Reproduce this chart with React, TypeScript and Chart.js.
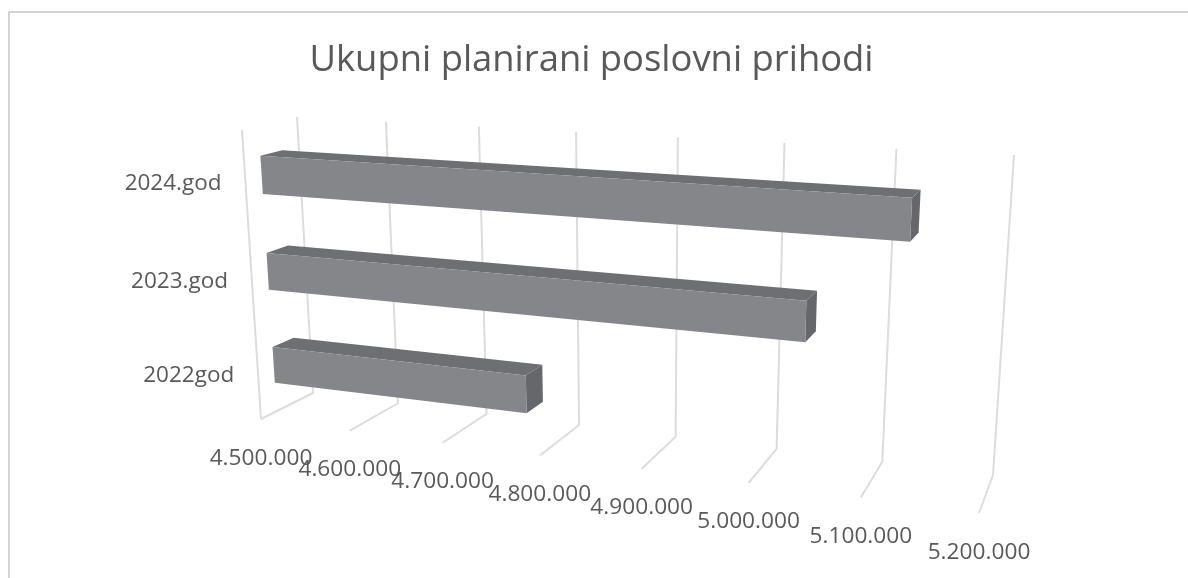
import React, { useEffect, useRef } from "react";
import { Chart, registerables } from "chart.js";

Chart.register(...registerables);

const categories = ["2022god", "2023.god", "2024.god"];
const prihodi = [4775000, 5041000, 5128000];
const axisMin = 4500000;
const axisMax = 5200000;
const axisStep = 100000;
const titleText = "Ukupni planirani poslovni prihodi";

type P = [number, number];

// Projective camera of the 3D box: corners of the back wall and of the front plane.
function quadMap(p00: P, p10: P, p11: P, p01: P) {
  const [x0, y0] = p00, [x1, y1] = p10, [x2, y2] = p11, [x3, y3] = p01;
  const dx3 = x0 - x1 + x2 - x3, dy3 = y0 - y1 + y2 - y3;
  const dx1 = x1 - x2, dx2 = x3 - x2, dy1 = y1 - y2, dy2 = y3 - y2;
  const det = dx1 * dy2 - dx2 * dy1;
  const g = (dx3 * dy2 - dx2 * dy3) / det;
  const h = (dx1 * dy3 - dx3 * dy1) / det;
  const a = x1 - x0 + g * x1, b = x3 - x0 + h * x3;
  const d = y1 - y0 + g * y1, e = y3 - y0 + h * y3;
  return (u: number, v: number): P => {
    const q = g * u + h * v + 1;
    return [(a * u + b * v + x0) / q, (d * u + e * v + y0) / q];
  };
}
const backWall = quadMap([313, 393], [993, 475], [1014, 155], [297, 117]);
const frontPlane = quadMap([261, 419], [979, 513], [998, 174], [242, 130]);
const project = (u: number, v: number, w: number): P => {
  const b = backWall(u, v), f = frontPlane(u, v);
  return [f[0] + (b[0] - f[0]) * w, f[1] + (b[1] - f[1]) * w];
};

const BAR_NEAR = 0.3;
const BAR_FAR = 0.7;
const BAR_V_SHIFT = -0.002;
const LABEL_V_SHIFT = 0.012;
const TEXT = "#595959";
const GRID = "#dcdcdc";
const FRAME = "#d4d4d4";

function poly(ctx: CanvasRenderingContext2D, pts: P[], fill: string) {
  ctx.beginPath();
  pts.forEach((p, i) => (i ? ctx.lineTo(p[0], p[1]) : ctx.moveTo(p[0], p[1])));
  ctx.closePath();
  ctx.fillStyle = fill;
  ctx.fill();
}
function stretchedText(ctx: CanvasRenderingContext2D, s: string, x: number, y: number, sx: number, align: CanvasTextAlign) {
  ctx.save();
  ctx.translate(x, y);
  ctx.scale(sx, 1);
  ctx.textAlign = align;
  ctx.textBaseline = "middle";
  ctx.fillStyle = TEXT;
  ctx.fillText(s, 0, 0);
  ctx.restore();
}

const box3d = {
  id: "box3d",
  beforeDatasetsDraw(chart: any) {
    const { ctx, chartArea: a, scales } = chart;
    const uOf = (px: number) => (px - a.left) / (a.right - a.left);
    const vOf = (py: number) => (a.bottom - py) / (a.bottom - a.top) - LABEL_V_SHIFT;
    ctx.save();
    ctx.lineJoin = "round";
    const line = (pts: P[]) => {
      ctx.beginPath();
      pts.forEach((p, i) => (i ? ctx.lineTo(p[0], p[1]) : ctx.moveTo(p[0], p[1])));
      ctx.stroke();
    };
    // frame of the pasted picture
    ctx.strokeStyle = FRAME;
    ctx.lineWidth = 2;
    line([[9, 578], [9, 12], [1188, 12]]);
    ctx.strokeStyle = GRID;
    ctx.lineWidth = 2;
    // left wall edge
    line([project(0, 1, 0), project(0, 0, 0)]);
    scales.x.ticks.forEach((t: any) => {
      const u = uOf(scales.x.getPixelForValue(t.value));
      line([project(u, 1, 1), project(u, 0, 1), project(u, 0, 0)]);
    });
    // value axis labels
    ctx.font = "21.5px 'Open Sans'";
    scales.x.ticks.forEach((t: any) => {
      const u = uOf(scales.x.getPixelForValue(t.value));
      const p = project(u, 0, 0);
      stretchedText(ctx, String(t.label), p[0], p[1] + 39.5, 1.055, "center");
    });
    // category labels
    ctx.font = "22.5px 'Open Sans'";
    scales.y.ticks.forEach((t: any, i: number) => {
      const v = vOf(scales.y.getPixelForValue(i));
      const p = project(0, v, 0);
      stretchedText(ctx, String(t.label), p[0] - 24, p[1], 1, "right");
    });
    ctx.restore();
  },
  afterDatasetsDraw(chart: any) {
    const { ctx, chartArea: a } = chart;
    const uOf = (px: number) => (px - a.left) / (a.right - a.left);
    const vOf = (py: number) => (a.bottom - py) / (a.bottom - a.top) - BAR_V_SHIFT;
    ctx.save();
    chart.getDatasetMeta(0).data.forEach((el: any) => {
      const u0 = Math.max(0, uOf(el.base)), u1 = uOf(el.x);
      const v0 = vOf(el.y + el.height / 2), v1 = vOf(el.y - el.height / 2);
      const n = BAR_NEAR, f = BAR_FAR;
      poly(ctx, [project(u0, v1, n), project(u1, v1, n), project(u1, v1, f), project(u0, v1, f)], "#6e6f73");
      poly(ctx, [project(u1, v0, n), project(u1, v0, f), project(u1, v1, f), project(u1, v1, n)], "#66676b");
      poly(ctx, [project(u0, v0, n), project(u1, v0, n), project(u1, v1, n), project(u0, v1, n)], "#85868a");
    });
    ctx.restore();
  },
};

export default function App() {
  const ref = useRef<HTMLCanvasElement>(null);
  useEffect(() => {
    const chart = new Chart(ref.current!, {
      type: "bar",
      data: {
        labels: categories,
        datasets: [{ label: titleText, data: prihodi, backgroundColor: "rgba(0,0,0,0)", categoryPercentage: 1, barPercentage: 0.388 }],
      },
      plugins: [box3d],
      options: {
        indexAxis: "y",
        responsive: false,
        animation: false,
        layout: { padding: { top: 0, left: 300, right: 305, bottom: 100 } },
        plugins: {
          legend: { display: false },
          tooltip: { enabled: false },
          title: {
            display: true,
            text: titleText,
            color: TEXT,
            font: { family: "'Open Sans'", size: 36.4, weight: "normal" },
            padding: { top: 39, bottom: 20 },
          },
        },
        scales: {
          x: {
            min: axisMin,
            max: axisMax,
            ticks: {
              stepSize: axisStep,
              display: false,
              callback: (v: any) => Number(v).toLocaleString("de-DE"),
            },
            grid: { display: false },
            border: { display: false },
          },
          y: {
            reverse: true,
            ticks: { display: false },
            grid: { display: false },
            border: { display: false },
          },
        },
      } as any,
    });
    return () => chart.destroy();
  }, []);
  return (
    <div style={{ position: "fixed", left: 0, top: 0, width: 1188, height: 578, background: "#fff" }}>
      <canvas ref={ref} width={1188} height={578} style={{ display: "block" }} />
    </div>
  );
}
